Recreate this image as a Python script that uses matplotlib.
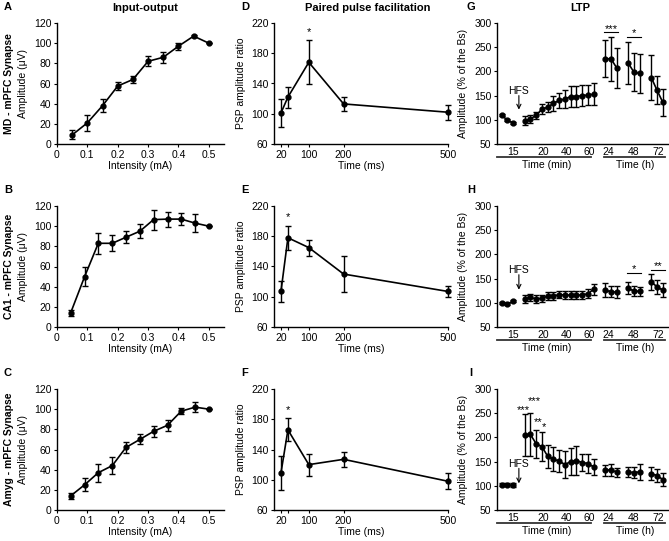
import matplotlib
matplotlib.use("Agg")
import matplotlib.pyplot as plt
import matplotlib.transforms as mtransforms

plt.rcParams['font.family'] = ['Liberation Sans', 'DejaVu Sans']
plt.rcParams['font.size'] = 7.5

# ---------------- data ----------------
io_x_A = [0.05, 0.10, 0.15, 0.20, 0.25, 0.30, 0.35, 0.40, 0.45, 0.50]
io_y_A = [9, 21, 38, 57.5, 64, 82, 86, 97, 107, 100]
io_e_A = [4.4, 7.7, 6.7, 3.8, 3.8, 4.8, 5.6, 3.3, 1.2, 0]

io_x_BC = [0.045, 0.091, 0.136, 0.182, 0.227, 0.273, 0.318, 0.364, 0.409, 0.455, 0.50]
io_y_B = [14, 50, 83, 83, 89, 95, 106.5, 107, 107, 103, 100]
io_e_B = [2.8, 9.6, 10.4, 8, 5.8, 7, 10, 7.4, 6.3, 8.6, 0]
io_y_C = [14, 25, 37, 44, 62, 70, 78, 84, 98, 102, 100]
io_e_C = [3.3, 6.6, 9, 8.2, 5.8, 5, 5.4, 5.6, 3, 5, 0]

ppf_x = [20, 40, 100, 200, 500]
ppf_y_D = [101, 122, 168, 113, 102]
ppf_e_D = [18, 14, 29, 9.3, 10]
ppf_y_E = [107, 178, 165, 130, 107]
ppf_e_E = [14, 15.6, 10.5, 24, 7.6]
ppf_y_F = [109, 166, 120, 127, 98]
ppf_e_F = [22.7, 15, 14.4, 10, 10.4]
ppf_star = {'D': (100, 208), 'E': (40, 206), 'F': (40, 192)}

# LTP: category positions for each segment
ltp_pos_base = [1, 2, 3]
ltp_pos_post = [5, 6, 7, 8, 9, 10, 11, 12, 13, 14, 15, 16, 17]
ltp_pos_24 = [19, 20, 21]
ltp_pos_48 = [23, 24, 25]
ltp_pos_72 = [27, 28, 29]
ltp_tick_labels = ['15', '20', '40', '60', '24', '48', '72']

G_base = [110, 99, 94];  G_base_e = [2, 2, 2]
G_post = [98, 102, 109, 122, 126, 134, 140, 143, 148, 148, 150, 151, 153]
G_post_e = [9, 7.6, 7, 10, 10, 15, 15, 19, 22, 21, 21, 21, 22]
G_24 = [226, 226, 207]; G_24_e = [38, 46, 41]
G_48 = [217, 198, 196]; G_48_e = [43, 39, 40]
G_72 = [187, 161, 136]; G_72_e = [46, 29, 28]

H_base = [100, 98, 103]; H_base_e = [2, 2, 2]
H_post = [108, 111, 108, 109, 114, 114, 117, 116, 116, 116, 116, 119, 128]
H_post_e = [9, 7, 8, 7, 8, 8, 8, 8, 8, 8, 8, 10, 11]
H_24 = [126, 123, 122]; H_24_e = [14, 12, 13]
H_48 = [130, 124, 124]; H_48_e = [12, 10, 9]
H_72 = [143, 133, 126]; H_72_e = [16, 15, 15]

I_base = [102, 102, 101]; I_base_e = [3, 3, 4]
I_post = [205, 206, 187, 181, 161, 155, 151, 144, 150, 152, 148, 146, 139]
I_post_e = [43, 44, 29, 30, 24, 25, 23, 28, 28, 30, 18, 20, 17]
I_24 = [132, 133, 128]; I_24_e = [12, 12, 9]
I_48 = [129, 127, 129]; I_48_e = [10, 11, 16]
I_72 = [125, 121, 113]; I_72_e = [13, 14, 13]

# ---------------- layout ----------------
W, H = 669, 541
fig = plt.figure(figsize=(W / 100, H / 100), dpi=100)

def add_ax(left, right, top, bottom):
    return fig.add_axes([left / W, 1 - bottom / H, (right - left) / W, (bottom - top) / H])

row_tb = [(23, 144), (206, 327), (389, 510)]
colA = (57, 224)
colD = (274, 448)
colG = (497, 668)

def style(ax):
    for s in ['top', 'right']:
        ax.spines[s].set_visible(False)
    for s in ['left', 'bottom']:
        ax.spines[s].set_linewidth(1.0)
    ax.tick_params(length=2.5, width=0.8, labelsize=7.5, pad=1.5)

ebkw = dict(color='black', lw=1.2, marker='o', ms=3.5, capsize=2.2, capthick=1.0, elinewidth=1.0)

# Column titles
fig.text(145 / W, 1 - 8 / H, 'Input-output', fontsize=8, fontweight='bold', ha='center', va='center')
fig.text(368 / W, 1 - 8 / H, 'Paired pulse facilitation', fontsize=8, fontweight='bold', ha='center', va='center')
fig.text(580 / W, 1 - 8 / H, 'LTP', fontsize=8, fontweight='bold', ha='center', va='center')

row_names = ['MD - mPFC Synapse', 'CA1 - mPFC Synapse', 'Amyg - mPFC Synapse']
letters = [('A', 'D', 'G'), ('B', 'E', 'H'), ('C', 'F', 'I')]
io_data = [(io_x_A, io_y_A, io_e_A), (io_x_BC, io_y_B, io_e_B), (io_x_BC, io_y_C, io_e_C)]
ppf_data = [(ppf_y_D, ppf_e_D, 'D'), (ppf_y_E, ppf_e_E, 'E'), (ppf_y_F, ppf_e_F, 'F')]
ltp_data = [
    (G_base, G_base_e, G_post, G_post_e, G_24, G_24_e, G_48, G_48_e, G_72, G_72_e),
    (H_base, H_base_e, H_post, H_post_e, H_24, H_24_e, H_48, H_48_e, H_72, H_72_e),
    (I_base, I_base_e, I_post, I_post_e, I_24, I_24_e, I_48, I_48_e, I_72, I_72_e),
]
hfs = [(160, 150, 121), (168, 158, 127), (146, 136, 105)]

for r in range(3):
    top, bot = row_tb[r]
    ycen = 1 - (top + bot) / 2 / H
    # row label & letters
    fig.text(9 / W, ycen, row_names[r], rotation=90, fontsize=7.5, fontweight='bold', ha='center', va='center')
    fig.text(8 / W, 1 - (top - 16) / H, letters[r][0], fontsize=8, fontweight='bold', ha='center', va='center')
    fig.text(245 / W, 1 - (top - 16) / H, letters[r][1], fontsize=8, fontweight='bold', ha='center', va='center')
    fig.text(471 / W, 1 - (top - 16) / H, letters[r][2], fontsize=8, fontweight='bold', ha='center', va='center')

    # Input-output
    ax = add_ax(colA[0], colA[1], top, bot)
    style(ax)
    x, y, e = io_data[r]
    ax.errorbar(x, y, yerr=e, **ebkw)
    ax.set_xlim(0, 0.55)
    ax.set_ylim(0, 120)
    ax.set_xticks([0, 0.1, 0.2, 0.3, 0.4, 0.5])
    ax.set_xticklabels(['0', '0.1', '0.2', '0.3', '0.4', '0.5'])
    ax.set_yticks(range(0, 121, 20))
    ax.set_xlabel('Intensity (mA)', fontsize=7.5, labelpad=1)
    ax.set_ylabel('Amplitude (μV)', fontsize=7.5)
    ax.yaxis.set_label_coords(-0.174, 0.5)

    # Paired pulse
    ax = add_ax(colD[0], colD[1], top, bot)
    style(ax)
    y, e, key = ppf_data[r]
    ax.errorbar(ppf_x, y, yerr=e, clip_on=False, **ebkw)
    ax.set_xlim(0, 500)
    ax.set_ylim(60, 220)
    ax.set_xticks([20, 40, 100, 200, 500])
    ax.set_xticklabels(['20', '', '100', '200', '500'])
    ax.set_yticks([60, 100, 140, 180, 220])
    ax.set_xlabel('Time (ms)', fontsize=7.5, labelpad=1)
    ax.set_ylabel('PSP amplitude ratio', fontsize=7.5)
    ax.yaxis.set_label_coords(-0.16, 0.5)
    sx, sy = ppf_star[key]
    ax.text(sx, sy, '*', ha='center', va='center', fontsize=8)

    # LTP
    ax = add_ax(colG[0], colG[1], top, bot)
    style(ax)
    d = ltp_data[r]
    for pos, yy, ee in [(ltp_pos_base, d[0], d[1]), (ltp_pos_post, d[2], d[3]),
                        (ltp_pos_24, d[4], d[5]), (ltp_pos_48, d[6], d[7]), (ltp_pos_72, d[8], d[9])]:
        ax.errorbar(pos, yy, yerr=ee, clip_on=False, **ebkw)
    ax.set_xlim(0.2, 29.9)
    ax.set_ylim(50, 300)
    ax.set_yticks(range(50, 301, 50))
    ax.set_xticks([3.0, 8.2, 12.35, 16.2, 19.5, 24.0, 28.2])
    ax.set_xticklabels(ltp_tick_labels)
    ax.tick_params(axis='x', length=0, pad=2)
    ax.set_ylabel('Amplitude (% of the Bs)', fontsize=7.5)
    ax.yaxis.set_label_coords(-0.17, 0.5)
    tr = mtransforms.blended_transform_factory(ax.transData, ax.transAxes)
    ax.plot([0.2, 16.5], [-0.107, -0.107], transform=tr, clip_on=False, color='#333333', lw=1.3)
    ax.plot([18.8, 29.4], [-0.107, -0.107], transform=tr, clip_on=False, color='#333333', lw=1.3)
    ax.text(8.9, -0.175, 'Time (min)', transform=tr, ha='center', va='center', fontsize=7.5)
    ax.text(24.2, -0.175, 'Time (h)', transform=tr, ha='center', va='center', fontsize=7.5)
    ht, ha0, ha1 = hfs[r]
    ax.text(4, ht, 'HFS', ha='center', va='center', fontsize=7.5)
    ax.annotate('', xy=(4, ha1), xytext=(4, ha0),
                arrowprops=dict(arrowstyle='->', lw=0.8, color='black', shrinkA=0, shrinkB=0))

    if r == 0:
        ax.plot([18.8, 21.2], [281, 281], color='black', lw=0.8)
        ax.text(20, 287, '***', ha='center', va='center', fontsize=8)
        ax.plot([22.8, 25.2], [272, 272], color='black', lw=0.8)
        ax.text(24, 279, '*', ha='center', va='center', fontsize=8)
    elif r == 1:
        ax.plot([22.8, 25.2], [161, 161], color='black', lw=0.8)
        ax.text(24, 169, '*', ha='center', va='center', fontsize=8)
        ax.plot([27.0, 29.4], [168, 168], color='black', lw=0.8)
        ax.text(28.2, 176, '**', ha='center', va='center', fontsize=8)
    else:
        ax.text(4.8, 256, '***', ha='center', va='center', fontsize=8)
        ax.text(6.6, 276, '***', ha='center', va='center', fontsize=8)
        ax.text(7.4, 232, '**', ha='center', va='center', fontsize=8)
        ax.text(8.4, 221, '*', ha='center', va='center', fontsize=8)

fig.savefig('out.png', dpi=100)
